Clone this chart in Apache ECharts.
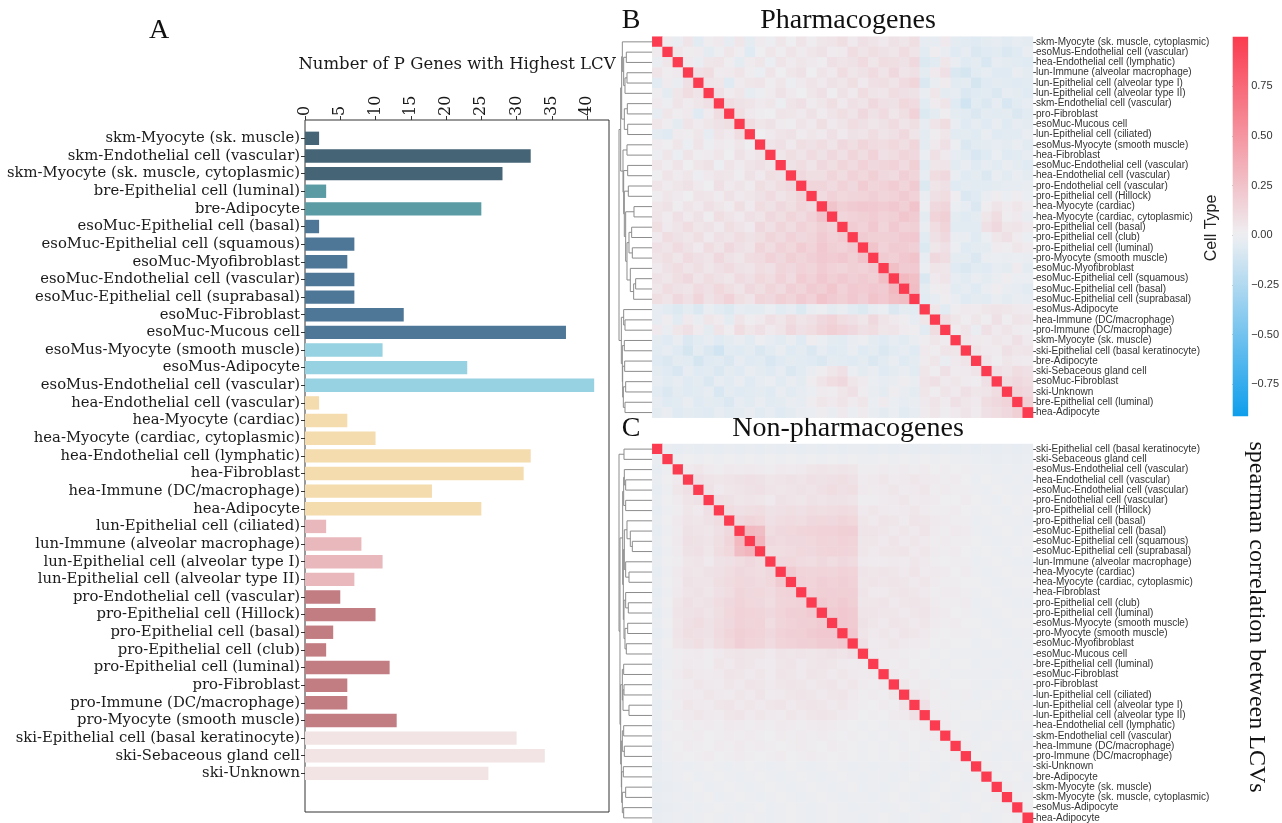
<!DOCTYPE html>
<html>
<head>
<meta charset="utf-8">
<script src="https://cdn.jsdelivr.net/npm/echarts@6/dist/echarts.min.js"></script>
<style>
html,body{margin:0;padding:0;background:#fff}
#main{width:1282px;height:823px}
</style>
</head>
<body>
<div id="main"></div>
<script>
// ---------- Panel A: number of P genes with highest LCV per cell type ----------
const cellTypes = [
  'skm-Myocyte (sk. muscle)','skm-Endothelial cell (vascular)','skm-Myocyte (sk. muscle, cytoplasmic)',
  'bre-Epithelial cell (luminal)','bre-Adipocyte',
  'esoMuc-Epithelial cell (basal)','esoMuc-Epithelial cell (squamous)','esoMuc-Myofibroblast',
  'esoMuc-Endothelial cell (vascular)','esoMuc-Epithelial cell (suprabasal)','esoMuc-Fibroblast','esoMuc-Mucous cell',
  'esoMus-Myocyte (smooth muscle)','esoMus-Adipocyte','esoMus-Endothelial cell (vascular)',
  'hea-Endothelial cell (vascular)','hea-Myocyte (cardiac)','hea-Myocyte (cardiac, cytoplasmic)',
  'hea-Endothelial cell (lymphatic)','hea-Fibroblast','hea-Immune (DC/macrophage)','hea-Adipocyte',
  'lun-Epithelial cell (ciliated)','lun-Immune (alveolar macrophage)','lun-Epithelial cell (alveolar type I)',
  'lun-Epithelial cell (alveolar type II)',
  'pro-Endothelial cell (vascular)','pro-Epithelial cell (Hillock)','pro-Epithelial cell (basal)',
  'pro-Epithelial cell (club)','pro-Epithelial cell (luminal)','pro-Fibroblast','pro-Immune (DC/macrophage)',
  'pro-Myocyte (smooth muscle)',
  'ski-Epithelial cell (basal keratinocyte)','ski-Sebaceous gland cell','ski-Unknown'
];
const genesWithHighestLCV = [2,32,28,3,25,2,7,6,7,7,14,37,11,23,41,2,6,10,32,31,18,25,3,8,11,7,5,10,4,3,12,6,6,13,30,34,26];
const tissueColors = {
  skm:'#456577', bre:'#5b9ba4', esoMuc:'#4e7797', esoMus:'#97d2e2',
  hea:'#f4dcae', lun:'#e9b8bd', pro:'#c27d83', ski:'#f2e4e4'
};
const barTicks = [0,5,10,15,20,25,30,35,40];

// ---------- Panel B: pharmacogenes, clustered order ----------
const pharmaOrder = [
  'skm-Myocyte (sk. muscle, cytoplasmic)','esoMus-Endothelial cell (vascular)','hea-Endothelial cell (lymphatic)',
  'lun-Immune (alveolar macrophage)','lun-Epithelial cell (alveolar type I)','lun-Epithelial cell (alveolar type II)',
  'skm-Endothelial cell (vascular)','pro-Fibroblast','esoMuc-Mucous cell','lun-Epithelial cell (ciliated)',
  'esoMus-Myocyte (smooth muscle)','hea-Fibroblast','esoMuc-Endothelial cell (vascular)','hea-Endothelial cell (vascular)',
  'pro-Endothelial cell (vascular)','pro-Epithelial cell (Hillock)','hea-Myocyte (cardiac)','hea-Myocyte (cardiac, cytoplasmic)',
  'pro-Epithelial cell (basal)','pro-Epithelial cell (club)','pro-Epithelial cell (luminal)','pro-Myocyte (smooth muscle)',
  'esoMuc-Myofibroblast','esoMuc-Epithelial cell (squamous)','esoMuc-Epithelial cell (basal)','esoMuc-Epithelial cell (suprabasal)',
  'esoMus-Adipocyte','hea-Immune (DC/macrophage)','pro-Immune (DC/macrophage)','skm-Myocyte (sk. muscle)',
  'ski-Epithelial cell (basal keratinocyte)','bre-Adipocyte','ski-Sebaceous gland cell','esoMuc-Fibroblast',
  'ski-Unknown','bre-Epithelial cell (luminal)','hea-Adipocyte'
];
// lower triangle of the Spearman correlation matrix (row i holds columns 0..i-1)
const pharmaCorrLower = [
  [],
  [.03],
  [-.02,.05],
  [.06,.02,.04],
  [-.05,.03,-.02,.08],
  [.02,-.04,.05,.1,.06],
  [.04,0,.06,.03,.05,.08],
  [-.03,.05,.02,.04,-.06,.03,.1],
  [.05,.02,-.04,.06,.03,.05,.07,.09],
  [-.04,-.06,.03,.02,.05,-.03,.06,.04,.1],
  [.03,.01,.05,-.01,.06,0,.04,.02,.05,.01],
  [0,.05,-.01,.06,.02,.03,.05,.01,.07,.04,.06],
  [.05,.02,.06,.01,.05,.07,0,.06,.03,.06,.08,.05],
  [.01,.06,.03,.05,0,.04,.06,.05,.02,.07,.04,.09,.07],
  [.06,.03,.05,.07,.04,.01,.08,.04,.06,.03,.09,.06,.1,.12],
  [.02,.05,.04,.01,.06,.05,.03,.07,.04,.05,.07,.11,.06,.09,.14],
  [.05,.07,.02,.06,.04,.08,.05,.03,.09,.04,.1,.07,.12,.09,.14,.11],
  [.06,.03,.08,.04,.07,.02,.09,.06,.04,.08,.06,.12,.09,.14,.11,.16,.24],
  [.09,.04,.06,.1,.05,.07,.04,.09,.06,.04,.12,.08,.14,.1,.16,.13,.18,.14],
  [.04,.1,.07,.05,.09,.04,.08,.06,.1,.07,.09,.14,.11,.16,.12,.14,.2,.16,.19],
  [.08,.06,.11,.07,.04,.1,.06,.12,.08,.06,.14,.1,.16,.13,.19,.15,.22,.18,.16,.2],
  [.06,.09,.05,.11,.08,.06,.12,.07,.05,.1,.11,.16,.12,.18,.14,.17,.21,.19,.22,.18,.24],
  [.04,.07,.1,.06,.09,.05,.08,.11,.07,.06,.1,.08,.14,.12,.16,.14,.19,.16,.14,.18,.16,.2],
  [.07,.05,.09,.12,.06,.1,.07,.05,.11,.08,.13,.1,.16,.11,.19,.16,.22,.18,.21,.17,.2,.18,.26],
  [.05,.1,.07,.06,.11,.08,.13,.09,.06,.12,.09,.14,.11,.17,.14,.2,.18,.23,.16,.21,.19,.22,.2,.3],
  [.09,.06,.12,.08,.14,.07,.11,.16,.09,.06,.14,.12,.18,.14,.2,.16,.24,.2,.18,.22,.17,.24,.21,.26,.28],
  [-.03,-.05,-.07,-.04,-.08,-.02,-.05,-.07,-.03,-.04,-.04,-.01,-.05,-.03,-.07,-.02,0,-.04,-.02,-.05,-.07,-.03,-.01,-.08,-.04,-.05],
  [-.03,.02,-.05,.04,-.02,.05,.03,-.04,.06,.02,.04,.08,.05,.1,.06,.08,.12,.15,.1,.08,.05,.12,.06,.04,.02,-.03,.05],
  [.04,-.02,.05,.08,.03,-.04,.06,.02,.1,.05,.08,.04,.06,.12,.08,.1,.14,.18,.15,.12,.08,.1,.05,.06,.03,.02,-.05,.1],
  [-.04,-.06,-.02,-.08,-.05,-.03,-.06,-.04,-.02,-.05,0,-.03,-.05,-.02,-.06,.02,-.01,-.04,-.05,-.02,0,-.04,-.06,-.03,-.05,-.02,.02,.05,.03],
  [-.05,-.03,-.06,-.1,-.04,-.08,-.12,-.05,-.06,-.04,-.08,-.05,-.02,-.06,-.04,-.08,-.03,-.06,-.05,-.02,-.06,-.04,-.08,-.05,-.03,-.06,.04,.02,.06,.05],
  [-.06,-.08,-.04,-.05,-.1,-.06,-.05,-.08,-.03,-.06,-.05,-.09,-.06,-.04,-.05,-.06,-.08,-.04,-.05,-.06,-.04,-.08,-.05,-.02,-.06,-.04,.03,.05,-.02,.04,.06],
  [-.04,-.06,-.09,-.03,-.06,-.05,-.08,-.04,-.06,-.02,-.04,-.06,-.03,-.08,-.05,-.02,.02,.05,.08,-.01,-.04,-.02,-.06,-.04,-.02,-.05,.05,.02,.08,.03,.04,.06],
  [-.03,-.05,-.03,-.06,-.04,-.08,-.03,-.05,-.02,-.06,-.03,-.01,-.05,-.02,-.04,.02,.06,.1,.12,.05,.03,-.01,-.03,-.02,.02,-.02,.06,.08,.04,.05,.03,.02,.08],
  [-.05,-.08,-.04,-.06,-.05,-.03,-.09,-.04,-.06,-.05,-.04,-.06,-.02,-.05,-.03,-.01,.03,.02,.05,.08,.02,-.02,-.04,.02,-.02,-.04,.05,.02,.06,.04,.08,.05,.06,.1],
  [-.03,-.06,-.05,-.02,-.06,-.04,-.05,-.08,-.03,-.05,-.02,-.05,-.04,-.02,-.03,.02,.05,.04,.06,.03,.05,-.01,.03,-.01,-.03,-.02,.04,.06,.03,.08,.05,.04,.1,.12,.15],
  [-.04,-.02,-.06,-.04,-.05,-.06,-.03,-.05,-.04,-.02,-.05,-.03,-.06,-.04,-.02,-.01,.02,-.02,.04,-.01,.03,-.02,-.04,-.01,-.05,-.03,.03,.05,.02,.04,.06,.03,.08,.1,.12,.18]
];
// linkage for the row dendrogram: [nodeA, nodeB, height]; nodes >= 37 are earlier merges
const pharmaLinkage = [
  [1,2,.78],[3,4,.76],[38,5,.82],[6,7,.75],[8,9,.74],[40,41,.84],[37,39,.86],[0,43,.9],[44,42,.92],
  [10,11,.76],[12,13,.74],[14,15,.72],[16,17,.55],[18,19,.62],[20,21,.6],[50,51,.7],[23,24,.5],[53,25,.56],
  [22,54,.66],[52,55,.76],[49,56,.8],[48,57,.84],[47,58,.86],[46,59,.88],[45,60,.95],
  [27,28,.82],[26,62,.86],[29,30,.84],[31,32,.83],[33,34,.8],[35,36,.82],[66,67,.87],[65,68,.89],[64,69,.9],
  [63,70,.93],[61,71,1.0]
];

// ---------- Panel C: non-pharmacogenes, clustered order ----------
const nonPharmaOrder = [
  'ski-Epithelial cell (basal keratinocyte)','ski-Sebaceous gland cell','esoMus-Endothelial cell (vascular)',
  'hea-Endothelial cell (vascular)','esoMuc-Endothelial cell (vascular)','pro-Endothelial cell (vascular)',
  'pro-Epithelial cell (Hillock)','pro-Epithelial cell (basal)','esoMuc-Epithelial cell (basal)',
  'esoMuc-Epithelial cell (squamous)','esoMuc-Epithelial cell (suprabasal)','lun-Immune (alveolar macrophage)',
  'hea-Myocyte (cardiac)','hea-Myocyte (cardiac, cytoplasmic)','hea-Fibroblast','pro-Epithelial cell (club)',
  'pro-Epithelial cell (luminal)','esoMus-Myocyte (smooth muscle)','pro-Myocyte (smooth muscle)','esoMuc-Myofibroblast',
  'esoMuc-Mucous cell','bre-Epithelial cell (luminal)','esoMuc-Fibroblast','pro-Fibroblast','lun-Epithelial cell (ciliated)',
  'lun-Epithelial cell (alveolar type I)','lun-Epithelial cell (alveolar type II)','hea-Endothelial cell (lymphatic)',
  'skm-Endothelial cell (vascular)','hea-Immune (DC/macrophage)','pro-Immune (DC/macrophage)','ski-Unknown',
  'bre-Adipocyte','skm-Myocyte (sk. muscle)','skm-Myocyte (sk. muscle, cytoplasmic)','esoMus-Adipocyte','hea-Adipocyte'
];
const nonPharmaCorrLower = [
  [],
  [-.02],
  [-.03,0],
  [-.02,.01,.04],
  [-.03,0,.05,.08],
  [-.02,.01,.03,.06,.07],
  [-.03,0,.02,.05,.04,.08],
  [-.02,.01,.04,.06,.05,.07,.1],
  [-.03,0,.03,.07,.06,.05,.08,.12],
  [-.02,.01,.04,.08,.07,.06,.09,.14,.3],
  [-.03,0,.03,.07,.08,.05,.1,.13,.28,.32],
  [-.02,.01,.02,.05,.06,.04,.07,.08,.1,.12,.1],
  [-.03,0,.04,.06,.05,.07,.08,.1,.12,.11,.1,.12],
  [-.02,.01,.03,.07,.06,.06,.09,.11,.13,.12,.11,.13,.2],
  [-.03,0,.04,.06,.07,.05,.08,.1,.14,.12,.13,.11,.15,.16],
  [-.02,.01,.05,.08,.06,.07,.1,.12,.15,.13,.12,.1,.14,.15,.16],
  [-.03,0,.06,.07,.08,.06,.09,.13,.16,.15,.14,.12,.15,.17,.18,.2],
  [-.02,.01,.05,.08,.1,.07,.1,.12,.16,.14,.15,.1,.14,.16,.17,.18,.2],
  [-.03,0,.06,.09,.08,.07,.11,.14,.18,.16,.15,.12,.16,.17,.18,.2,.22,.22],
  [-.02,.01,.05,.07,.09,.06,.1,.13,.17,.15,.14,.11,.15,.16,.17,.18,.2,.2,.22],
  [-.02,0,.02,.03,.04,.02,.04,.05,.06,.05,.05,.04,.06,.05,.06,.05,.06,.07,.06,.08],
  [-.03,0,.02,.04,.03,.02,.05,.04,.06,.05,.04,.03,.05,.06,.04,.05,.06,.05,.04,.03,.04],
  [-.02,.01,.03,.05,.04,.03,.04,.06,.05,.04,.05,.03,.06,.05,.04,.06,.05,.04,.05,.04,.03,.04],
  [-.03,0,.02,.03,.05,.04,.03,.05,.04,.06,.05,.04,.05,.06,.05,.04,.05,.06,.04,.05,.03,.02,.04],
  [-.02,.01,.03,.04,.03,.05,.04,.03,.05,.04,.06,.03,.04,.05,.06,.05,.04,.05,.06,.04,.02,.03,.02,.05],
  [-.03,0,.02,.05,.04,.03,.05,.06,.04,.05,.04,.05,.06,.04,.05,.06,.05,.04,.05,.03,.02,.01,.03,.02,.06],
  [-.02,.01,.03,.04,.05,.04,.03,.05,.06,.04,.05,.04,.03,.05,.04,.05,.06,.05,.04,.03,.01,.02,.01,.03,.04,.08],
  [-.03,0,.01,.03,.02,.03,.02,.04,.03,.02,.03,.02,.04,.03,.02,.03,.04,.03,.02,.01,0,.01,0,.02,.01,.02,.03],
  [-.02,.01,.02,.02,.03,.01,.02,.03,.02,.03,.02,.01,.03,.02,.03,.02,.03,.02,.01,.02,.01,0,.01,0,.02,.01,.02,.03],
  [-.03,0,.01,.03,.02,.01,.03,.02,.04,.02,.03,.02,.01,.02,.03,.02,.01,.03,.02,.01,0,.01,0,.01,0,.01,0,.01,.02],
  [-.02,0,.02,.01,.02,.03,.01,.02,.03,.02,.01,.02,.03,.01,.02,.03,.02,.01,.02,.01,0,.01,0,.01,.02,0,.01,0,.01,.03],
  [-.03,-.01,0,-.01,0,.01,0,-.01,0,.01,0,-.01,0,.01,0,-.01,0,.01,0,-.01,0,-.01,0,0,-.01,0,.01,0,-.01,0,.01],
  [-.02,-.01,0,.01,-.01,0,.01,0,-.01,0,.01,0,-.01,0,.01,0,-.01,0,.01,0,-.01,0,0,-.01,0,.01,0,-.01,0,.01,0,.02],
  [-.03,-.02,-.01,0,.01,-.01,0,.01,0,-.01,0,.01,0,-.01,0,.01,0,-.01,0,.01,-.01,0,-.01,0,.01,0,-.01,0,.01,0,-.01,0,.01],
  [-.02,-.01,0,-.01,0,.01,-.01,0,.01,0,-.01,0,.01,0,-.01,0,.01,0,-.01,0,0,-.01,0,.01,0,-.01,0,.01,0,-.01,0,.01,0,.03],
  [-.03,-.02,-.01,0,-.01,0,.01,0,-.01,0,.01,-.01,0,.01,0,-.01,0,.01,0,-.01,0,0,-.01,0,.01,0,-.01,0,.01,0,-.01,0,.01,0,.02],
  [-.02,-.01,0,-.01,0,.01,0,-.01,0,.01,0,-.01,0,.01,0,-.01,0,.01,0,0,-.01,0,.01,0,-.01,0,.01,0,-.01,0,.01,0,-.01,0,.01,.02]
];
const nonPharmaLinkage = [
  [0,1,.85],[3,4,.8],[2,38,.84],[5,6,.8],[39,40,.86],[9,10,.6],[8,42,.66],[7,43,.76],[12,13,.7],[11,45,.8],
  [44,46,.84],[15,16,.72],[14,48,.8],[17,18,.74],[19,20,.78],[50,51,.82],[49,52,.85],[47,53,.87],[41,54,.89],
  [21,22,.86],[23,24,.85],[25,26,.7],[57,58,.88],[56,59,.9],[27,28,.86],[29,30,.84],[61,62,.9],[31,32,.87],
  [33,34,.8],[35,36,.86],[65,66,.9],[64,67,.92],[63,68,.93],[60,69,.95],[55,70,.97],[37,71,1.0]
];

// colour scale range and colourbar ticks
const corrMin = -0.91, corrMax = 1.0;
const colorbarTicks = [-0.75,-0.5,-0.25,0,0.25,0.5,0.75];

// ---------- helpers ----------
const N = 37;
function fullMatrixCells(lower){
  const cells = [];
  for (let i = 0; i < N; i++) {
    for (let j = 0; j < N; j++) {
      let v;
      if (i === j) v = 1;
      else if (i > j) v = lower[i][j];
      else v = lower[j][i];
      cells.push([j, i, v]);
    }
  }
  return cells;
}
function dendroSegments(links){
  const pos = [];
  for (let i = 0; i < N; i++) pos.push([0, i + 0.5]);
  return links.map(([a, b, h]) => {
    const pa = pos[a], pb = pos[b];
    pos.push([h, (pa[1] + pb[1]) / 2]);
    return [pa[0], pa[1], h, pb[1], pb[0]];
  });
}
const BLUE = [14,158,236], MID = [238,239,242], RED = [251,59,79];
function corrColor(v){
  let a, b, t;
  if (v < 0) { a = MID; b = BLUE; t = Math.min(1, v / corrMin); }
  else { a = MID; b = RED; t = Math.min(1, v / corrMax); }
  const c = a.map((x, k) => Math.round(x + (b[k] - x) * t));
  return 'rgb(' + c.join(',') + ')';
}
const NSTOP = 61;
const scaleColors = [];
for (let k = 0; k < NSTOP; k++) scaleColors.push(corrColor(corrMin + (corrMax - corrMin) * k / (NSTOP - 1)));
const gradientStops = scaleColors.map((c, k) => ({offset: 1 - k / (NSTOP - 1), color: c}));

// ---------- layout ----------
const heatLeft = 652.3, heatW = 380.7, heatH = 381, topB = 36.7, topC = 444;
const dendroLeft = 619, dendroW = heatLeft - 619;

const chart = echarts.init(document.getElementById('main'), null, {renderer: 'canvas'});

const dendroRender = function (params, api) {
  const p0 = api.coord([api.value(0), api.value(1)]);
  const p1 = api.coord([api.value(2), api.value(1)]);
  const p2 = api.coord([api.value(2), api.value(3)]);
  const p3 = api.coord([api.value(4), api.value(3)]);
  return {type: 'polyline', shape: {points: [p0, p1, p2, p3]},
          style: {stroke: '#8c8c8c', lineWidth: 1, fill: null}};
};

const heatYAxis = (labels, gi) => ({
  type: 'category', gridIndex: gi, data: labels, inverse: true, position: 'right',
  axisLine: {show: false},
  axisTick: {show: true, length: 3, alignWithLabel: true, interval: 0, lineStyle: {color: '#555', width: 1}},
  axisLabel: {interval: 0, fontFamily: 'Liberation Sans', fontSize: 10, color: '#333', margin: 3}
});
const hiddenCat = gi => ({type: 'category', gridIndex: gi, data: cellTypes.map((_, i) => i), show: false});
const dendroX = gi => ({type: 'value', gridIndex: gi, min: 0, max: 1, inverse: true, show: false});
const dendroY = gi => ({type: 'value', gridIndex: gi, min: 0, max: N, inverse: true, show: false});

const serif = 'DejaVu Serif';

chart.setOption({
  animation: false,
  grid: [
    {left: 305, top: 129.5, width: 304, height: 652.7},
    {left: dendroLeft, top: topB, width: dendroW, height: heatH},
    {left: heatLeft, top: topB, width: heatW, height: heatH},
    {left: dendroLeft, top: topC, width: dendroW, height: heatH},
    {left: heatLeft, top: topC, width: heatW, height: heatH},
    {left: 1232.7, top: 36.7, width: 16.6, height: 379.5}
  ],
  xAxis: [
    {type: 'value', gridIndex: 0, position: 'top', offset: 9.5, min: 0, max: 43.1, interval: 5,
     splitLine: {show: false}, axisLine: {show: false},
     axisTick: {show: true, length: 4, customValues: barTicks, lineStyle: {color: '#333'}},
     axisLabel: {rotate: -90, fontFamily: serif, fontSize: 16, color: '#1a1a1a', margin: 4,
                 customValues: barTicks}},
    dendroX(1),
    hiddenCat(2),
    dendroX(3),
    hiddenCat(4),
    {type: 'value', gridIndex: 5, min: 0, max: 1, show: false}
  ],
  yAxis: [
    {type: 'category', gridIndex: 0, data: cellTypes, inverse: true,
     axisLine: {show: false},
     axisTick: {show: true, length: 4, alignWithLabel: true, interval: 0, lineStyle: {color: '#333'}},
     axisLabel: {interval: 0, fontFamily: serif, fontSize: 14.8, color: '#1a1a1a', margin: 5}},
    dendroY(1),
    heatYAxis(pharmaOrder, 2),
    dendroY(3),
    heatYAxis(nonPharmaOrder, 4),
    {type: 'value', gridIndex: 5, min: corrMin, max: corrMax, position: 'right',
     splitLine: {show: false}, axisLine: {show: false},
     axisTick: {show: true, length: 4, customValues: colorbarTicks, lineStyle: {color: '#444'}},
     axisLabel: {customValues: colorbarTicks, fontFamily: 'Liberation Sans', fontSize: 11, color: '#333', margin: 3,
                 formatter: v => (v < 0 ? '\u2212' : '') + Math.abs(v).toFixed(2)}}
  ],
  visualMap: {
    type: 'continuous', show: false, seriesIndex: [2, 4], dimension: 2,
    min: corrMin, max: corrMax, inRange: {color: scaleColors}
  },
  series: [
    {type: 'bar', xAxisIndex: 0, yAxisIndex: 0, barWidth: 13.4,
     data: genesWithHighestLCV.map((v, i) => ({value: v, itemStyle: {color: tissueColors[cellTypes[i].split('-')[0]]}}))},
    {type: 'custom', xAxisIndex: 1, yAxisIndex: 1, renderItem: dendroRender,
     encode: {x: [0, 2, 4], y: [1, 3]}, data: dendroSegments(pharmaLinkage), silent: true},
    {type: 'heatmap', xAxisIndex: 2, yAxisIndex: 2, data: fullMatrixCells(pharmaCorrLower),
     progressive: 0, emphasis: {disabled: true}, itemStyle: {borderWidth: 0}},
    {type: 'custom', xAxisIndex: 3, yAxisIndex: 3, renderItem: dendroRender,
     encode: {x: [0, 2, 4], y: [1, 3]}, data: dendroSegments(nonPharmaLinkage), silent: true},
    {type: 'heatmap', xAxisIndex: 4, yAxisIndex: 4, data: fullMatrixCells(nonPharmaCorrLower),
     progressive: 0, emphasis: {disabled: true}, itemStyle: {borderWidth: 0}},
    {type: 'custom', xAxisIndex: 5, yAxisIndex: 5, silent: true,
     encode: {x: [0, 2], y: [1, 3]}, data: [[0, corrMin, 1, corrMax]],
     renderItem: function (params, api) {
       const p0 = api.coord([api.value(0), api.value(3)]);
       const p1 = api.coord([api.value(2), api.value(1)]);
       return {type: 'rect', shape: {x: p0[0], y: p0[1], width: p1[0] - p0[0], height: p1[1] - p0[1]},
               style: {fill: new echarts.graphic.LinearGradient(0, 0, 0, 1, gradientStops)}};
     }}
  ],
  graphic: [
    {type: 'rect', shape: {x: 305, y: 120, width: 304, height: 692}, style: {fill: null, stroke: '#333', lineWidth: 1}, silent: true},
    {type: 'text', x: 159, y: 31, style: {text: 'A', font: '28px "Liberation Serif"', fill: '#111', align: 'center', verticalAlign: 'middle'}},
    {type: 'text', x: 457, y: 65, style: {text: 'Number of P Genes with Highest LCV', font: '16.5px "DejaVu Serif"', fill: '#1a1a1a', align: 'center', verticalAlign: 'middle'}},
    {type: 'text', x: 631, y: 21, style: {text: 'B', font: '28px "Liberation Serif"', fill: '#111', align: 'center', verticalAlign: 'middle'}},
    {type: 'text', x: 848, y: 21, style: {text: 'Pharmacogenes', font: '28px "Liberation Serif"', fill: '#111', align: 'center', verticalAlign: 'middle'}},
    {type: 'text', x: 631, y: 429, style: {text: 'C', font: '28px "Liberation Serif"', fill: '#111', align: 'center', verticalAlign: 'middle'}},
    {type: 'text', x: 848, y: 429, style: {text: 'Non-pharmacogenes', font: '28px "Liberation Serif"', fill: '#111', align: 'center', verticalAlign: 'middle'}},
    {type: 'text', x: 1212, y: 228, rotation: Math.PI / 2, style: {text: 'Cell Type', font: '16px "Liberation Sans"', fill: '#222', align: 'center', verticalAlign: 'middle'}},
    {type: 'text', x: 1256, y: 617, rotation: -Math.PI / 2, style: {text: 'spearman correlation between LCVs', font: '24px "Liberation Serif"', fill: '#111', align: 'center', verticalAlign: 'middle'}}
  ]
});
</script>
</body>
</html>
